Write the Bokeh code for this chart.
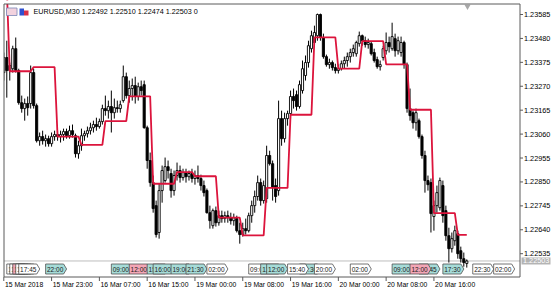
from bokeh.plotting import figure
from bokeh.models import Range1d, ColumnDataSource
from bokeh.core.properties import value
from bokeh.embed import file_html
from bokeh.resources import INLINE

symbol = "EURUSD,M30"

opens = [1.23330, 1.23396, 1.23339, 1.23347, 1.23435, 1.23339, 1.23198, 1.23172, 1.23194, 1.23194,
         1.23330, 1.23185, 1.23031, 1.23049, 1.23031, 1.23040, 1.23018, 1.23049, 1.23058, 1.23049,
         1.23058, 1.23071, 1.23053, 1.23075, 1.23053, 1.22974, 1.23009, 1.23053, 1.23062, 1.23075,
         1.23088, 1.23102, 1.23093, 1.23115, 1.23172, 1.23163, 1.23181, 1.23154, 1.23176, 1.23172,
         1.23207, 1.23312, 1.23229, 1.23260, 1.23273, 1.23225, 1.23268, 1.23277, 1.23088, 1.22944,
         1.22847, 1.22746, 1.22628, 1.22812, 1.22856, 1.22917, 1.22887, 1.22812, 1.22878, 1.22900,
         1.22869, 1.22891, 1.22873, 1.22887, 1.22865, 1.22878, 1.22865, 1.22834, 1.22812, 1.22715,
         1.22658, 1.22724, 1.22671, 1.22702, 1.22689, 1.22702, 1.22693, 1.22680, 1.22689, 1.22636,
         1.22619, 1.22645, 1.22636, 1.22702, 1.22746, 1.22786, 1.22847, 1.22768, 1.22777, 1.22966,
         1.22930, 1.22834, 1.22812, 1.23128, 1.23040, 1.23128, 1.23150, 1.23225, 1.23233, 1.23181,
         1.23251, 1.23317, 1.23374, 1.23435, 1.23462, 1.23492, 1.23585, 1.23484, 1.23400, 1.23365,
         1.23374, 1.23352, 1.23339, 1.23347, 1.23369, 1.23383, 1.23400, 1.23418, 1.23413, 1.23457,
         1.23492, 1.23470, 1.23453, 1.23457, 1.23418, 1.23387, 1.23356, 1.23396, 1.23426, 1.23462,
         1.23435, 1.23479, 1.23426, 1.23418, 1.23462, 1.23365, 1.23172, 1.23154, 1.23110, 1.23119,
         1.23049, 1.22966, 1.22856, 1.22847, 1.22698, 1.22746, 1.22737, 1.22834, 1.22724, 1.22614,
         1.22557, 1.22592, 1.22623, 1.22548, 1.22513, 1.22492]

highs = [1.23418, 1.23470, 1.23374, 1.23448, 1.23484, 1.23347, 1.23229, 1.23216, 1.23225, 1.23361,
         1.23347, 1.23194, 1.23067, 1.23075, 1.23058, 1.23053, 1.23067, 1.23075, 1.23075, 1.23075,
         1.23084, 1.23084, 1.23097, 1.23102, 1.23062, 1.23031, 1.23084, 1.23075, 1.23093, 1.23110,
         1.23119, 1.23132, 1.23128, 1.23189, 1.23229, 1.23207, 1.23251, 1.23216, 1.23207, 1.23207,
         1.23361, 1.23330, 1.23295, 1.23304, 1.23312, 1.23286, 1.23295, 1.23295, 1.23097, 1.22979,
         1.22878, 1.22768, 1.22843, 1.22922, 1.22957, 1.22944, 1.22908, 1.22900, 1.22935, 1.22922,
         1.22908, 1.22908, 1.22900, 1.22908, 1.22900, 1.22922, 1.22882, 1.22856, 1.22821, 1.22746,
         1.22733, 1.22742, 1.22724, 1.22724, 1.22720, 1.22724, 1.22715, 1.22711, 1.22702, 1.22671,
         1.22671, 1.22689, 1.22715, 1.22768, 1.22812, 1.22878, 1.22865, 1.22856, 1.23009, 1.22987,
         1.22944, 1.22865, 1.23207, 1.23163, 1.23154, 1.23163, 1.23251, 1.23260, 1.23251, 1.23295,
         1.23383, 1.23405, 1.23470, 1.23514, 1.23536, 1.23589, 1.23589, 1.23501, 1.23409, 1.23391,
         1.23383, 1.23369, 1.23365, 1.23383, 1.23400, 1.23418, 1.23435, 1.23453, 1.23470, 1.23510,
         1.23497, 1.23488, 1.23479, 1.23466, 1.23435, 1.23400, 1.23383, 1.23448, 1.23506, 1.23488,
         1.23549, 1.23501, 1.23488, 1.23488, 1.23470, 1.23374, 1.23260, 1.23163, 1.23172, 1.23128,
         1.23058, 1.22987, 1.22878, 1.22865, 1.22768, 1.22834, 1.22869, 1.22856, 1.22746, 1.22649,
         1.22628, 1.22658, 1.22636, 1.22566, 1.22540, 1.22510]

lows = [1.23295, 1.23220, 1.23295, 1.23330, 1.23330, 1.23189, 1.23154, 1.23119, 1.23141, 1.23172,
        1.23172, 1.23023, 1.23009, 1.23014, 1.23005, 1.23005, 1.23005, 1.23031, 1.23031, 1.23023,
        1.23031, 1.23040, 1.23040, 1.23045, 1.22957, 1.22952, 1.22987, 1.23031, 1.23045, 1.23058,
        1.23067, 1.23075, 1.23084, 1.23102, 1.23141, 1.23128, 1.23067, 1.23128, 1.23154, 1.23154,
        1.23198, 1.23216, 1.23198, 1.23207, 1.23194, 1.23207, 1.23229, 1.23084, 1.22908, 1.22829,
        1.22715, 1.22606, 1.22601, 1.22759, 1.22847, 1.22865, 1.22781, 1.22790, 1.22856, 1.22847,
        1.22856, 1.22847, 1.22856, 1.22847, 1.22838, 1.22847, 1.22812, 1.22786, 1.22711, 1.22645,
        1.22645, 1.22654, 1.22658, 1.22671, 1.22671, 1.22671, 1.22663, 1.22658, 1.22628, 1.22579,
        1.22610, 1.22619, 1.22628, 1.22671, 1.22715, 1.22768, 1.22746, 1.22755, 1.22759, 1.22922,
        1.22768, 1.22759, 1.22790, 1.23009, 1.23023, 1.23097, 1.23128, 1.23172, 1.23163, 1.23172,
        1.23238, 1.23295, 1.23352, 1.23418, 1.23444, 1.23470, 1.23470, 1.23391, 1.23356, 1.23347,
        1.23339, 1.23326, 1.23326, 1.23339, 1.23347, 1.23356, 1.23374, 1.23400, 1.23400, 1.23444,
        1.23448, 1.23440, 1.23435, 1.23405, 1.23374, 1.23347, 1.23339, 1.23383, 1.23409, 1.23418,
        1.23426, 1.23400, 1.23409, 1.23400, 1.23347, 1.23154, 1.23119, 1.23084, 1.23075, 1.23040,
        1.22952, 1.22803, 1.22812, 1.22628, 1.22636, 1.22715, 1.22724, 1.22671, 1.22592, 1.22496,
        1.22540, 1.22570, 1.22513, 1.22496, 1.22478, 1.22474]

closes = [1.23396, 1.23339, 1.23361, 1.23435, 1.23339, 1.23198, 1.23172, 1.23194, 1.23176, 1.23330,
          1.23185, 1.23031, 1.23049, 1.23031, 1.23040, 1.23018, 1.23049, 1.23058, 1.23049, 1.23058,
          1.23071, 1.23053, 1.23075, 1.23058, 1.22974, 1.23009, 1.23053, 1.23062, 1.23075, 1.23088,
          1.23102, 1.23093, 1.23115, 1.23172, 1.23163, 1.23181, 1.23154, 1.23176, 1.23172, 1.23189,
          1.23312, 1.23229, 1.23260, 1.23273, 1.23225, 1.23268, 1.23251, 1.23088, 1.22944, 1.22847,
          1.22733, 1.22619, 1.22812, 1.22900, 1.22917, 1.22900, 1.22812, 1.22878, 1.22900, 1.22869,
          1.22891, 1.22873, 1.22887, 1.22865, 1.22878, 1.22865, 1.22834, 1.22803, 1.22715, 1.22680,
          1.22724, 1.22671, 1.22702, 1.22689, 1.22702, 1.22693, 1.22680, 1.22693, 1.22636, 1.22619,
          1.22645, 1.22636, 1.22702, 1.22746, 1.22786, 1.22847, 1.22768, 1.22834, 1.22966, 1.22930,
          1.22825, 1.22786, 1.23128, 1.23040, 1.23128, 1.23150, 1.23225, 1.23207, 1.23181, 1.23277,
          1.23347, 1.23374, 1.23448, 1.23492, 1.23506, 1.23585, 1.23484, 1.23400, 1.23365, 1.23374,
          1.23352, 1.23339, 1.23347, 1.23369, 1.23383, 1.23400, 1.23418, 1.23435, 1.23462, 1.23492,
          1.23470, 1.23453, 1.23462, 1.23413, 1.23383, 1.23356, 1.23365, 1.23435, 1.23462, 1.23444,
          1.23488, 1.23426, 1.23470, 1.23462, 1.23365, 1.23172, 1.23141, 1.23110, 1.23154, 1.23049,
          1.22966, 1.22856, 1.22838, 1.22711, 1.22746, 1.22803, 1.22856, 1.22702, 1.22614, 1.22557,
          1.22601, 1.22636, 1.22535, 1.22513, 1.22496, 1.22503]

# higher-timeframe (H4) step line: first bar index of each step and its level
h4_start = [0, 2, 10, 18, 26, 34, 42, 50, 58, 64, 72, 80, 88, 96, 104, 112, 120, 128, 136, 144, 152]
h4_value = [1.23700, 1.23336, 1.23354, 1.23049, 1.23013, 1.23117, 1.23226, 1.22842, 1.22893, 1.22875,
            1.22693, 1.22615, 1.22824, 1.23145, 1.23485, 1.23347, 1.23468, 1.23366, 1.23167, 1.22713,
            1.22618]

price_ticks = [1.23585, 1.23480, 1.23375, 1.23270, 1.23165, 1.23060, 1.22955, 1.22850, 1.22745,
               1.22640, 1.22535]
time_tick_bars = [0, 16, 32, 48, 64, 80, 96, 112, 128, 144]
time_tick_labels = ["15 Mar 2018", "15 Mar 23:00", "16 Mar 07:00", "16 Mar 15:00", "19 Mar 00:00",
                    "19 Mar 08:00", "19 Mar 16:00", "20 Mar 00:00", "20 Mar 08:00", "20 Mar 16:00"]

# calendar event markers (bar index of event, time text, importance colour), in drawing order
event_bars = [1, 2, 3, 4, 5, 14, 36, 42, 48, 50, 56, 61, 68, 82, 86, 88, 99, 95, 104, 116,
              130, 139, 136, 147, 157, 164]
event_labels = ["15:30", "16:00", "16:30", "17:00", "17:45", "22:00", "09:00", "12:00", "15:00",
                "16:00", "19:00", "21:30", "02:00", "09:00", "11:00", "12:00", "17:30", "15:40",
                "20:00", "02:00", "09:00", "13:45", "12:00", "17:30", "22:30", "02:00"]
event_kinds = ["w", "w", "p", "w", "w", "t", "t", "p", "t", "t", "t", "t", "w", "w", "t", "t",
               "t", "w", "w", "w", "t", "t", "p", "t", "w", "w"]

# ---------------- layout (pixels) ----------------
W, H = 560, 294
FL, FR, FT, FB = 3.5, 519.5, 3.5, 276.5   # chart box edges
X0, BAR = 3.3, 2.987          # screen x of bar 0, px per bar
P0, PPX = 1.236465, 4.39e-5    # price at screen y=0, price per px


def bx(px):
    return (px - X0) / BAR


def py(ypx):
    return P0 - PPX * ypx


FONT = "Liberation Sans"
FRAME_C = "#5a5a5a"

p = figure(width=W, height=H, output_backend="svg", toolbar_location=None,
           x_range=Range1d(bx(0), bx(W)), y_range=Range1d(py(H), py(0)),
           min_border_left=0, min_border_right=0, min_border_top=0, min_border_bottom=0,
           x_axis_location=None, y_axis_location=None)
p.outline_line_color = None
p.grid.visible = False
p.background_fill_color = "#ffffff"
p.border_fill_color = "#ffffff"

n = len(closes)
xs = list(range(n))

# current price line (under the candles)
p.segment(x0=[bx(FL)], y0=[closes[-1]], x1=[bx(FR)], y1=[closes[-1]],
          line_color="#bdbdbd", line_width=1)

# candles
src = ColumnDataSource(dict(
    x=xs, o=opens, h=highs, l=lows, c=closes,
    top=[max(a, b) for a, b in zip(opens, closes)],
    bottom=[min(a, b) for a, b in zip(opens, closes)],
    fill=["#000000" if c < o else "#ffffff" for o, c in zip(opens, closes)],
))
p.segment(x0="x", y0="l", x1="x", y1="h", source=src, line_color="#000000", line_width=1)
p.vbar(x="x", top="top", bottom="bottom", width=0.72, fill_color="fill",
       line_color="#000000", line_width=0.9, source=src)

# H4 step line
step_line = []
for i in range(n):
    k = max(j for j, s in enumerate(h4_start) if s <= i)
    step_line.append(h4_value[k])
p.line(xs, step_line, line_color="#dc143c", line_width=1.8)

# event markers at the bottom of the chart
fills = {"w": "#ffffff", "t": "#a6dcd8", "p": "#f4a6b6"}
bw, tip = 21 / BAR, 3 / BAR
ytop, ymid, ybot = py(263.5), py(268.5), py(273.5)
for b, lab, k in zip(event_bars, event_labels, event_kinds):
    p.patch([b, b + bw - tip, b + bw, b + bw - tip, b], [ytop, ytop, ymid, ybot, ybot],
            fill_color=fills[k], line_color="#505050", line_width=0.8)
    p.text(x=[b + 9.5 / BAR], y=[ymid], text=[lab], text_align="center",
           text_baseline="middle", text_font=value(FONT), text_font_size="6.5px",
           text_color="#202020")

# header: symbol, timeframe and last bar OHLC
header = f"{symbol}  {opens[-1]:.5f} {highs[-1]:.5f} {lows[-1]:.5f} {closes[-1]:.5f}  0"
p.quad(left=[bx(6)], right=[bx(16.5)], top=[py(7.5)], bottom=[py(15)],
       fill_color="#f2d2de", line_color="#7a86b8", line_width=0.8)
p.quad(left=[bx(19)], right=[bx(23.5)], top=[py(8)], bottom=[py(15)],
       fill_color="#3050d0", line_color=None)
p.quad(left=[bx(23.5)], right=[bx(28)], top=[py(10)], bottom=[py(15)],
       fill_color="#d83048", line_color=None)
p.text(x=[bx(33)], y=[py(11)], text=[header], text_align="left", text_baseline="middle",
       text_font=value(FONT), text_font_size="7.2px", text_color="#000000")

# chart-shift marker
p.scatter(x=[bx(467)], y=[py(6)], marker="inverted_triangle", size=6,
          fill_color="#a8a8a8", line_color=None)

# white margins around the chart box (so nothing spills out of it)
p.quad(left=[bx(0)], right=[bx(FL)], top=[py(0)], bottom=[py(H)],
       fill_color="#ffffff", line_color=None)
p.quad(left=[bx(FR)], right=[bx(W)], top=[py(0)], bottom=[py(H)],
       fill_color="#ffffff", line_color=None)
p.quad(left=[bx(0)], right=[bx(W)], top=[py(0)], bottom=[py(FT)],
       fill_color="#ffffff", line_color=None)
p.quad(left=[bx(0)], right=[bx(W)], top=[py(FB)], bottom=[py(H)],
       fill_color="#ffffff", line_color=None)

# chart box
p.quad(left=[bx(FL)], right=[bx(FR)], top=[py(FT)], bottom=[py(FB)],
       fill_color=None, line_color=FRAME_C, line_width=1)

# price axis (right)
p.segment(x0=[bx(FR)] * len(price_ticks), y0=price_ticks,
          x1=[bx(FR + 3)] * len(price_ticks), y1=price_ticks,
          line_color=FRAME_C, line_width=1)
p.text(x=[bx(FR + 4)] * len(price_ticks), y=price_ticks,
       text=[f"{t:.5f}" for t in price_ticks], text_align="left", text_baseline="middle",
       text_font=value(FONT), text_font_size="7.3px", text_color="#000000")

# current price tag
p.quad(left=[bx(FR + 1.5)], right=[bx(FR + 30.5)], top=[closes[-1] + 3.5 * PPX],
       bottom=[closes[-1] - 3.5 * PPX], fill_color="#b4b4b4", line_color=None)
p.text(x=[bx(FR + 3)], y=[closes[-1]], text=[f"{closes[-1]:.5f}"], text_align="left",
       text_baseline="middle", text_font=value(FONT), text_font_size="7.3px",
       text_color="#ffffff")

# time axis (bottom)
p.segment(x0=time_tick_bars, y0=[py(FB)] * len(time_tick_bars),
          x1=time_tick_bars, y1=[py(FB + 4)] * len(time_tick_bars),
          line_color=FRAME_C, line_width=1)
p.text(x=[b + 0.4 for b in time_tick_bars], y=[py(283.5)] * len(time_tick_bars),
       text=time_tick_labels, text_align="left", text_baseline="middle",
       text_font=value(FONT), text_font_size="6.8px", text_color="#000000")

open("out.html", "w").write(file_html(p, INLINE))
